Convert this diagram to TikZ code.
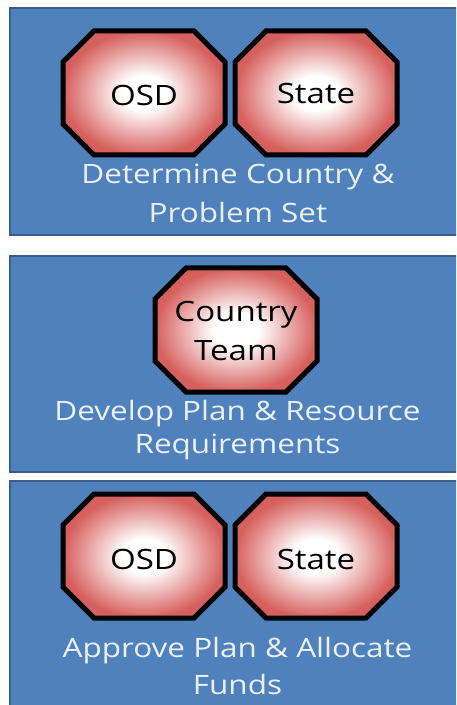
\documentclass[tikz,border=0pt]{standalone}
\usepackage{graphicx}
\usepackage{fontspec}
\setmainfont{Open Sans}

\definecolor{panelblue}{RGB}{79,129,189}
\definecolor{paneledge}{RGB}{58,94,140}
\definecolor{octred}{RGB}{214,96,93}
\definecolor{captiontext}{RGB}{236,241,248}

% radial fill of the octagons: white core fading to red at the rim
\pgfdeclareradialshading{octshade}{\pgfpoint{0bp}{0bp}}{%
  color(0bp)=(white); color(7bp)=(white); color(25bp)=(octred); color(50bp)=(octred)}

% slightly widened lettering
\newcommand\wide[1]{\scalebox{1.18}[1]{#1}}

\tikzset{
  panel/.style={fill=panelblue, draw=paneledge, line width=1.5pt},
  octagon/.style={draw=black, line width=3.75pt, line join=miter, shading=octshade},
  octa/.pic={\path[octagon] (-50,-62) -- (50,-62) -- (81,-31) -- (81,31) -- (50,62)
      -- (-50,62) -- (-81,31) -- (-81,-31) -- cycle;},
  octlabel/.style={font=\fontsize{21}{29.25}\selectfont, text=black, align=center, inner sep=0pt},
  caption/.style={font=\fontsize{20}{27.75}\selectfont, text=captiontext, align=center,
      inner sep=0pt, anchor=north}
}

\begin{document}
\begin{tikzpicture}[x=0.75pt, y=-0.75pt]
  \clip (0,0) rectangle (456,705);
  \fill[white] (0,0) rectangle (456,705);

  % three stage panels
  \draw[panel] (10,8) rectangle (470,235);
  \draw[panel] (10,256) rectangle (470,472);
  \draw[panel] (10,481) rectangle (470,720);

  % stage 1
  \pic at (144,93) {octa};
  \node[octlabel] (osdA) at (144,95) {\wide{OSD}};
  \pic at (316,93) {octa};
  \node[octlabel] (stateA) at (316,94) {\wide{State}};
  \node[caption] (capA) at (238,163.5) {\wide{Determine Country \&}\\[1.5pt]\wide{Problem Set}};

  % stage 2
  \pic at (236,330) {octa};
  \node[octlabel] (team) at (236,331) {\wide{Country}\\\wide{Team}};
  \node[caption] (capB) at (237.5,400) {\wide{Develop Plan \& Resource}\\[-3pt]\wide{Requirements}};

  % stage 3
  \pic at (144,556) {octa};
  \node[octlabel] (osdC) at (144,559) {\wide{OSD}};
  \pic at (316,556) {octa};
  \node[octlabel] (stateC) at (316,559) {\wide{State}};
  \node[caption] (capC) at (237.5,637) {\wide{Approve Plan \& Allocate}\\\wide{Funds}};
\end{tikzpicture}
\end{document}
